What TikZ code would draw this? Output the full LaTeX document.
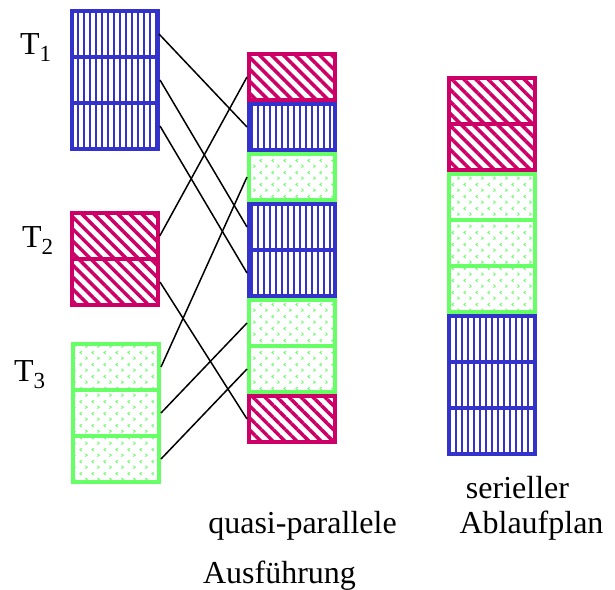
\documentclass[tikz,border=0pt]{standalone}
\usepackage{fontspec}
\setmainfont{Liberation Serif}
\usetikzlibrary{positioning, patterns.meta}

\definecolor{tblue}{RGB}{51,51,204}
\definecolor{tred}{RGB}{204,0,102}
\definecolor{tgreen}{RGB}{102,255,102}

% little scattered marks for the green blocks
\tikzdeclarepattern{
  name=sprinkles,
  type=uncolored,
  bounding box={(0pt,0pt) and (12pt,12pt)},
  tile size={(12pt,12pt)},
  code={
    \draw[line width=.9pt] (1.5pt,1.5pt) -- (3.5pt,3pt) -- (1.5pt,4.5pt);
    \draw[line width=.9pt] (10.5pt,7.5pt) -- (8.5pt,9pt) -- (10.5pt,10.5pt);
  }
}

\tikzset{
  cell/.style={draw, line width=4pt, minimum width=86pt, minimum height=46pt, inner sep=0pt},
  bluecell/.style={cell, draw=tblue, pattern={Lines[angle=90,distance=6pt,line width=2pt]}, pattern color=tblue},
  redcell/.style={cell, draw=tred, pattern={Lines[angle=-45,distance=8.5pt,line width=3.5pt]}, pattern color=tred},
  greencell/.style={cell, draw=tgreen, pattern=sprinkles, pattern color=tgreen},
  conn/.style={line width=1.5pt},
  plaintext/.style={inner sep=0pt, font=\fontsize{32}{36}\selectfont}
}

\newcommand{\tsub}[1]{T\raisebox{-7pt}{\fontsize{23}{23}\selectfont #1}}

\begin{document}
\begin{tikzpicture}[x=1pt,y=-1pt,node distance=46pt,on grid]
  \useasboundingbox (0,0) rectangle (615,589);

  % transactions
  \node[bluecell] (t1a) at (115,34) {};
  \node[bluecell] (t1b) [below=of t1a] {};
  \node[bluecell] (t1c) [below=of t1b] {};
  \node[redcell] (t2a) at (115,236) {};
  \node[redcell] (t2b) [below=of t2a] {};
  \node[greencell] (t3a) at (116,367) {};
  \node[greencell] (t3b) [below=of t3a] {};
  \node[greencell] (t3c) [below=of t3b] {};

  \node[plaintext, anchor=base west] (l1) at (20,54) {\tsub{1}};
  \node[plaintext, anchor=base west] (l2) at (22,247) {\tsub{2}};
  \node[plaintext, anchor=base west] (l3) at (14,381) {\tsub{3}};

  % quasi-parallel
  \node[redcell] (q1) at (292,77) {};
  \node[bluecell] (q2) [below=50pt of q1] {};
  \node[greencell] (q3) [below=50pt of q2] {};
  \node[bluecell] (q4) [below=50pt of q3] {};
  \node[bluecell] (q5) [below=of q4] {};
  \node[greencell] (q6) [below=50pt of q5] {};
  \node[greencell] (q7) [below=of q6] {};
  \node[redcell] (q8) [below=50pt of q7] {};

  % serial
  \node[redcell] (s1) at (491.5,101) {};
  \node[redcell] (s2) [below=of s1] {};
  \node[greencell] (s3) [below=50pt of s2] {};
  \node[greencell] (s4) [below=of s3] {};
  \node[greencell] (s5) [below=of s4] {};
  \node[bluecell] (s6) [below=50pt of s5] {};
  \node[bluecell] (s7) [below=of s6] {};
  \node[bluecell] (s8) [below=of s7] {};

  \draw[conn] (t1a.east) -- (q2.west);
  \draw[conn] (t1b.east) -- (q4.west);
  \draw[conn] (t1c.east) -- (q5.west);
  \draw[conn] (t2a.east) -- (q1.west);
  \draw[conn] (t2b.east) -- (q8.west);
  \draw[conn] (t3a.east) -- (q3.west);
  \draw[conn] (t3b.east) -- (q6.west);
  \draw[conn] (t3c.east) -- (q7.west);

  \node[plaintext, anchor=base] (c1) at (302.5,533) {quasi-parallele};
  \node[plaintext, anchor=base] (c2) at (279.5,583) {Ausführung};
  \node[plaintext, anchor=base] (c3) at (517.5,498) {serieller};
  \node[plaintext, anchor=base] (c4) at (531.5,533) {Ablaufplan};
\end{tikzpicture}
\end{document}
